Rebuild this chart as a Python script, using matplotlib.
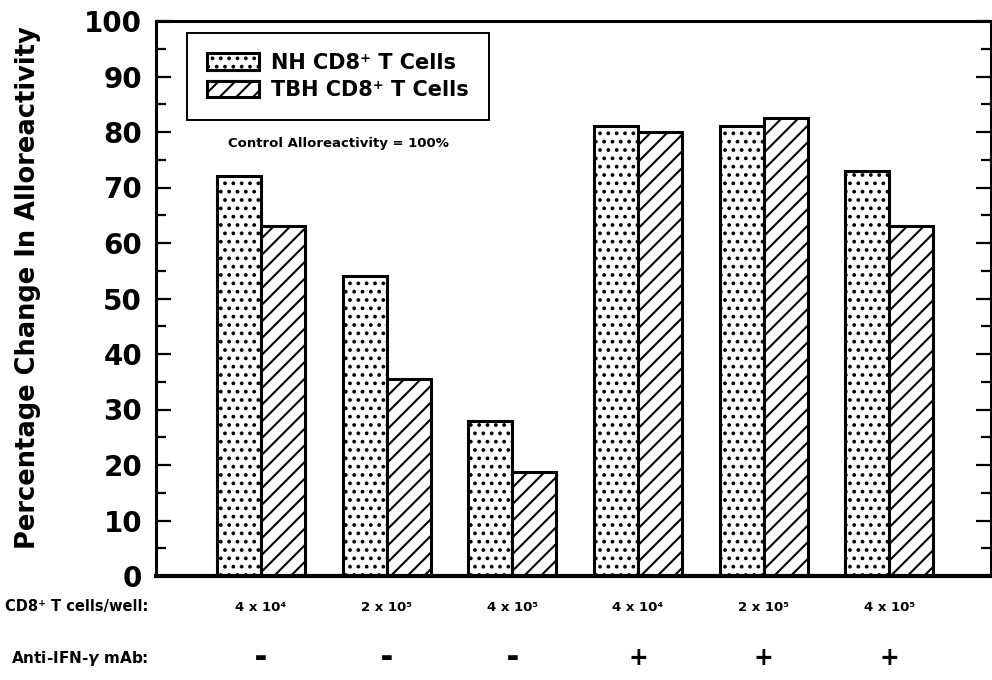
import numpy as np
import matplotlib; matplotlib.use("Agg")
import matplotlib.pyplot as plt
from matplotlib.ticker import MultipleLocator

plt.rcParams["font.family"] = ["DejaVu Sans"]
plt.rcParams["font.weight"] = "bold"
plt.rcParams["hatch.linewidth"] = 1.5

# percent change in alloreactivity per condition
cells = ["4 x 10⁴", "2 x 10⁵", "4 x 10⁵", "4 x 10⁴", "2 x 10⁵", "4 x 10⁵"]
anti_ifn = ["-", "-", "-", "+", "+", "+"]
nh_vals = [72, 54, 28, 81, 81, 73]
tbh_vals = [63, 35.5, 18.7, 80, 82.5, 63]

x = np.arange(len(cells))
w = 0.35

fig = plt.figure(figsize=(9.92, 6.8), dpi=100)
ax = fig.add_axes([156/992, 1-576/680, 835/992, 555/680])

ax.bar(x - w/2, nh_vals, w, facecolor="white", edgecolor="black", lw=2.2,
       hatch="..", label="NH CD8⁺ T Cells")
ax.bar(x + w/2, tbh_vals, w, facecolor="white", edgecolor="black", lw=2.2,
       hatch="//", label="TBH CD8⁺ T Cells")

ax.set_xlim(-0.836, 5.81)
ax.set_ylim(0, 100)
ax.yaxis.set_major_locator(MultipleLocator(10))
ax.yaxis.set_minor_locator(MultipleLocator(5))
ax.tick_params(axis="y", which="both", direction="in", right=True, left=True,
               width=1.6, labelsize=20, pad=10)
ax.tick_params(axis="y", which="major", length=11)
ax.tick_params(axis="y", which="minor", length=7)
ax.tick_params(axis="x", bottom=False, labelbottom=False)
for s in ax.spines.values():
    s.set_linewidth(2.2)
ax.spines["bottom"].set_linewidth(3)

leg = ax.legend(loc="upper left", bbox_to_anchor=(0.037, 0.978), borderaxespad=0,
                fontsize=15, handlelength=2.5, handleheight=0.85, fancybox=False,
                edgecolor="black", framealpha=1, borderpad=0.95, labelspacing=0.35,
                handletextpad=0.6)
leg.get_frame().set_linewidth(1.4)

ax.text(0.218, 0.779, "Control Alloreactivity = 100%", transform=ax.transAxes,
        ha="center", va="center", fontsize=9.5)

fig.text(28/992, 1-288/680, "Percentage Change In Alloreactivity", rotation=90,
         ha="center", va="center", fontsize=18.5)

# condition rows under the axis
tr = ax.get_xaxis_transform()
for xi, c, a in zip(x, cells, anti_ifn):
    ax.text(xi, -0.056, c, transform=tr, ha="center", va="center", fontsize=9.5)
    ax.text(xi, -0.147, "▬" if a == "-" else "+", transform=tr, ha="center",
            va="center", fontsize=9 if a == "-" else 17)
fig.text(148/992, 1-607/680, "CD8⁺ T cells/well:", ha="right", va="center", fontsize=10.5)
fig.text(148/992, 1-658/680, r"Anti-IFN-$\gamma$ mAb:", ha="right", va="center", fontsize=11)

fig.savefig("out.png", dpi=100)
